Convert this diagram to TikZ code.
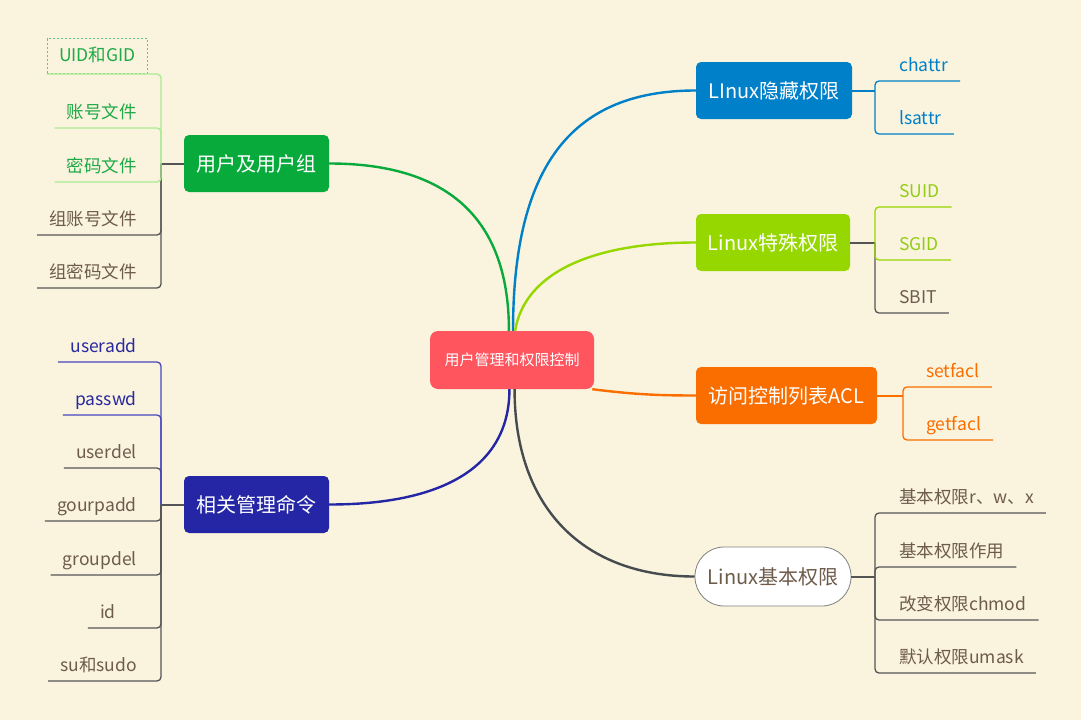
\documentclass[tikz,border=0pt]{standalone}
\usepackage{fontspec}
\setmainfont{Noto Sans CJK SC}

\definecolor{bg}{RGB}{250,243,222}
\definecolor{rootred}{RGB}{255,85,95}
\definecolor{usrgreen}{RGB}{8,170,60}
\definecolor{usrtext}{RGB}{30,170,70}
\definecolor{usrline}{RGB}{170,235,145}
\definecolor{cmdblue}{RGB}{36,38,166}
\definecolor{cmdline}{RGB}{70,70,190}
\definecolor{cmdtext}{RGB}{40,40,160}
\definecolor{hidblue}{RGB}{0,128,200}
\definecolor{spclime}{RGB}{150,215,0}
\definecolor{spctext}{RGB}{145,205,20}
\definecolor{aclorange}{RGB}{250,110,0}
\definecolor{darkline}{RGB}{85,85,85}
\definecolor{basecurve}{RGB}{70,75,80}
\definecolor{brown}{RGB}{110,92,75}

\begin{document}
\begin{tikzpicture}[x=1pt,y=-1pt,
    grp/.style={rounded corners=5pt, minimum height=57pt, inner sep=0pt,
      text=white, font=\fontsize{20}{23}\selectfont},
    leaf/.style={inner xsep=12pt, inner ysep=0pt, text height=15pt, text depth=9pt,
      font=\fontsize{17.5}{20}\selectfont},
    twig/.style={line width=1.3pt, rounded corners=4pt},
    branch/.style={line width=2.4pt}]
  \useasboundingbox[fill=bg] (0,0) rectangle (1081,720);

  % centre and main topics
  \node[fill=rootred, rounded corners=8pt, minimum width=164pt, minimum height=58pt,
    text=white, font=\fontsize{15}{17}\selectfont] (root) at (512,360) {用户管理和权限控制};
  \node[grp, fill=usrgreen, minimum width=145pt] (usr) at (256.5,163.5) {用户及用户组};
  \node[grp, fill=cmdblue, minimum width=145pt] (cmd) at (256.5,504.5) {相关管理命令};
  \node[grp, fill=hidblue, minimum width=156pt] (hid) at (774,90.5) {LInux隐藏权限};
  \node[grp, fill=spclime, minimum width=154pt] (spc) at (773,242.5) {Linux特殊权限};
  \node[grp, fill=aclorange, minimum width=181pt] (acl) at (786.5,395.5) {访问控制列表ACL};
  \node[grp, fill=white, draw=gray, line width=0.8pt, rounded corners=29pt, minimum width=156pt,
    minimum height=59pt, text=brown] (base) at (773,576.5) {Linux基本权限};

  \draw[branch, usrgreen] (root.96) .. controls +(0,-120) and +(110,0) .. (usr.east);
  \draw[branch, hidblue] (root.88) .. controls +(0,-170) and +(-120,0) .. (hid.west);
  \draw[branch, spclime] (root.84) .. controls +(10,-60) and +(-100,0) .. (spc.west);
  \draw[branch, aclorange] (root.-20) .. controls +(40,5) and +(-40,0) .. (acl.west);
  \draw[branch, cmdblue] (root.265) .. controls +(0,80) and +(110,0) .. (cmd.east);
  \draw[branch, basecurve] (root.275) .. controls +(0,120) and +(-110,0) .. (base.west);

  % junctions
  \coordinate (j1) at (161,163.5);
  \coordinate (j2) at (161,504.5);
  \coordinate (j3) at (875,90.5);
  \coordinate (j4) at (875,242.5);
  \coordinate (j5) at (903,395.5);
  \coordinate (j6) at (875,576.5);
  \draw[line width=2pt, darkline] (usr.west) -- (j1);
  \draw[line width=2pt, darkline] (cmd.west) -- (j2);
  \draw[line width=2pt, hidblue] (hid.east) -- (j3);
  \draw[line width=2pt, darkline] (spc.east) -- (j4);
  \draw[line width=2pt, aclorange] (acl.east) -- (j5);
  \draw[line width=2pt, darkline] (base.east) -- (j6);

  % user and group
  \foreach \n/\y/\t in {u4/235/组账号文件, u5/288/组密码文件}
  {
    \node[leaf, text=brown, anchor=south east] (\n) at (149,\y) {\t};
    \draw[twig, darkline] (j1) |- (\n.south west);
  }
  \node[draw=usrtext!70, dash pattern=on 2pt off 2pt, line width=0.8pt, minimum height=35pt,
    inner xsep=12pt, text height=14pt, text depth=3pt, text=usrtext,
    font=\fontsize{17.5}{20}\selectfont, anchor=south east] (u1) at (148,74) {UID和GID};
  \draw[twig, usrline] (j1) |- (u1.south west);
  \foreach \n/\y/\t in {u2/128/账号文件, u3/182/密码文件}
  {
    \node[leaf, text=usrtext, anchor=south east] (\n) at (149,\y) {\t};
    \draw[twig, usrline] (j1) |- (\n.south west);
  }

  % commands
  \foreach \n/\y/\t in {c3/468/userdel, c4/521/gourpadd, c5/575/groupdel, c7/681/su和sudo}
  {
    \node[leaf, text=brown, anchor=south east] (\n) at (149,\y) {\t};
    \draw[twig, darkline] (j2) |- (\n.south west);
  }
  \node[leaf, text=brown, anchor=south east] (c6) at (128,628) {id};
  \draw[twig, darkline] (j2) |- (c6.south west);
  \foreach \n/\y/\t in {c1/362/useradd, c2/415/passwd}
  {
    \node[leaf, text=cmdtext, anchor=south east] (\n) at (149,\y) {\t};
    \draw[twig, cmdline] (j2) |- (\n.south west);
  }

  % hidden permissions
  \foreach \n/\y/\t in {h1/81/chattr, h2/134/lsattr}
  {
    \node[leaf, text=hidblue, anchor=south west] (\n) at (887,\y) {\t};
    \draw[twig, hidblue] (j3) |- (\n.south east);
  }

  % special permissions
  \node[leaf, text=brown, anchor=south west] (s3) at (887,313) {SBIT};
  \draw[twig, darkline] (j4) |- (s3.south east);
  \foreach \n/\y/\t in {s1/207/SUID, s2/260/SGID}
  {
    \node[leaf, text=spctext, anchor=south west] (\n) at (887,\y) {\t};
    \draw[twig, spclime] (j4) |- (\n.south east);
  }

  % ACL
  \foreach \n/\y/\t in {a1/387/setfacl, a2/440/getfacl}
  {
    \node[leaf, text=aclorange, anchor=south west] (\n) at (914,\y) {\t};
    \draw[twig, aclorange] (j5) |- (\n.south east);
  }

  % basic permissions
  \foreach \n/\y/\t in {b1/513/基本权限r、w、x, b2/567/基本权限作用, b3/620/改变权限chmod, b4/673/默认权限umask}
  {
    \node[leaf, text=brown, anchor=south west] (\n) at (887,\y) {\t};
    \draw[twig, darkline] (j6) |- (\n.south east);
  }
\end{tikzpicture}
\end{document}
